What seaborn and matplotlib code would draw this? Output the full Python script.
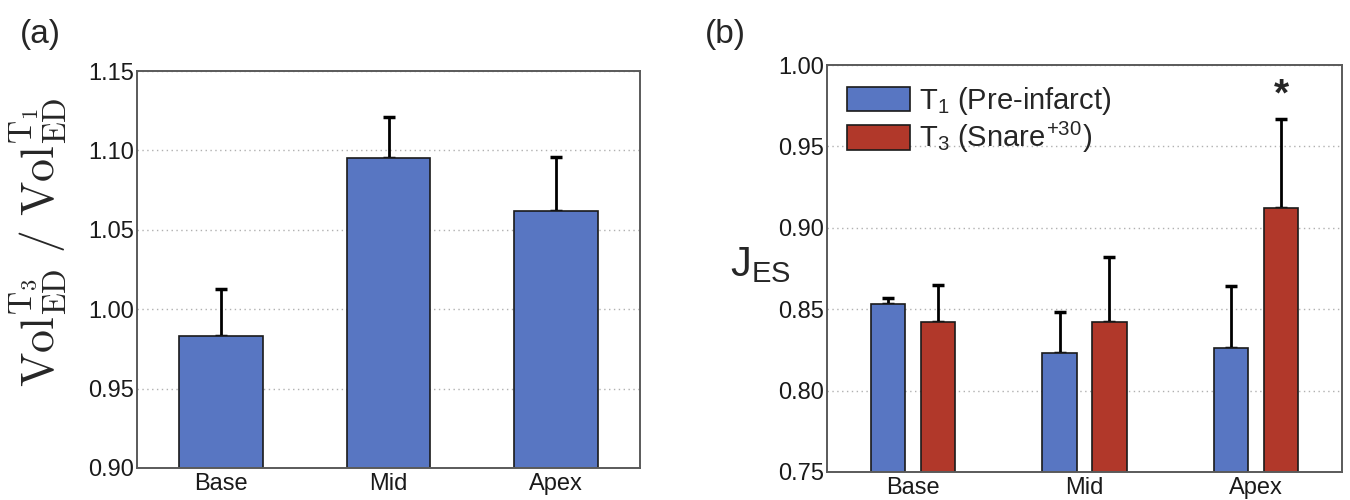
import numpy as np
import pandas as pd
import matplotlib
matplotlib.use('Agg')
import matplotlib.pyplot as plt
import seaborn as sns

# ==========================================
# DATA
# ==========================================
regions = ['Base', 'Mid', 'Apex']

# (a) volume ratio ED, T3 / T1
vol_ratio = [0.983, 1.095, 1.062]
vol_ratio_err = [0.030, 0.026, 0.034]

# (b) J_ES per time point
jes_t1 = [0.853, 0.823, 0.826]
jes_t1_err = [0.004, 0.025, 0.038]
jes_t3 = [0.842, 0.842, 0.912]
jes_t3_err = [0.023, 0.040, 0.055]

series_labels = [r'$\mathregular{T_1}$ (Pre-infarct)', r'$\mathregular{T_3}$ (Snare$^{\mathregular{+30}}$)']

BLUE = '#5876c2'
RED = '#b1382a'

sns.set_style('white')
plt.rcParams['font.family'] = ['Liberation Sans', 'DejaVu Sans']
plt.rcParams['mathtext.fontset'] = 'cm'


def style_axes(ax, ylim, yticks):
    ax.set_xlim(-0.5, 2.5)
    ax.set_ylim(*ylim)
    ax.set_yticks(yticks)
    ax.set_yticklabels([f'{t:.2f}' for t in yticks])
    ax.yaxis.grid(True, linestyle=(0, (1, 2.5)), color='#b0b0b0', linewidth=1.0)
    ax.xaxis.grid(False)
    ax.set_axisbelow(True)
    for s in ax.spines.values():
        s.set_color('#5a5a5a')
        s.set_linewidth(1.4)
    ax.tick_params(axis='both', direction='in', length=4, width=1.0, colors='#5a5a5a',
                   labelcolor='#1a1a1a', labelsize=17)
    ax.tick_params(axis='y', pad=2)
    ax.set_xlabel('')
    ax.set_ylabel('')


def up_errorbars(ax, xs, ys, errs):
    # only the upper half is visible: the lower cap sits behind the bar
    ax.errorbar(xs, ys, yerr=[np.zeros(len(ys)), errs], fmt='none',
                ecolor='black', elinewidth=2, capsize=4, capthick=2.5, zorder=0.9)


fig = plt.figure(figsize=(13.5, 5), dpi=100)

# ---------- (a) ----------
ax1 = fig.add_axes([0.1015, 0.064, 0.3726, 0.794])
df_a = pd.DataFrame({'region': regions, 'value': vol_ratio})
sns.barplot(data=df_a, x='region', y='value', order=regions, color=BLUE, width=0.5,
            saturation=1, edgecolor='#1a1a1a', linewidth=1.2, errorbar=None, ax=ax1)
for p in ax1.patches:
    p.set_zorder(2)
xs = [p.get_x() + p.get_width() / 2 for p in ax1.patches]
up_errorbars(ax1, xs, vol_ratio, vol_ratio_err)
style_axes(ax1, (0.90, 1.15), [0.90, 0.95, 1.00, 1.05, 1.10, 1.15])
fig.text(0.029, 0.516,
         r'$\mathrm{Vol}_{\mathrm{ED}}^{\mathrm{T_3}}\ /\ \mathrm{Vol}_{\mathrm{ED}}^{\mathrm{T_1}}$',
         fontsize=33, rotation=90, ha='center', va='center')
fig.text(0.03, 0.93, '(a)', fontsize=24, ha='center', va='center')

# ---------- (b) ----------
ax2 = fig.add_axes([0.6126, 0.056, 0.3815, 0.814])
df_b = pd.DataFrame({
    'region': regions * 2,
    'value': jes_t1 + jes_t3,
    'time': [series_labels[0]] * 3 + [series_labels[1]] * 3,
})
sns.barplot(data=df_b, x='region', y='value', hue='time', order=regions,
            hue_order=series_labels, palette=[BLUE, RED], width=0.58, gap=0.31,
            saturation=1, edgecolor='#1a1a1a', linewidth=1.2, errorbar=None, ax=ax2)
bars = ax2.patches[:6]
for p in bars:
    p.set_zorder(2)
xs_b = [p.get_x() + p.get_width() / 2 for p in bars]
up_errorbars(ax2, xs_b, jes_t1 + jes_t3, jes_t1_err + jes_t3_err)
style_axes(ax2, (0.75, 1.00), [0.75, 0.80, 0.85, 0.90, 0.95, 1.00])

# significance marker above apex T3
ax2.text(xs_b[5], jes_t3[2] + jes_t3_err[2] + 0.003, '*', fontsize=28, fontweight='bold',
         ha='center', va='bottom')

handles, labels = ax2.get_legend_handles_labels()
ax2.legend(handles, labels, loc='upper left', frameon=False, fontsize=21,
           handlelength=2.15, handleheight=0.9, handletextpad=0.3, labelspacing=0.1,
           borderaxespad=0.3, bbox_to_anchor=(0.0, 1.0))

fig.text(0.563, 0.47, r'$\mathregular{J_{ES}}$', fontsize=30, ha='center', va='center')
fig.text(0.537, 0.93, '(b)', fontsize=24, ha='center', va='center')

plt.savefig('out.png', dpi=100)
